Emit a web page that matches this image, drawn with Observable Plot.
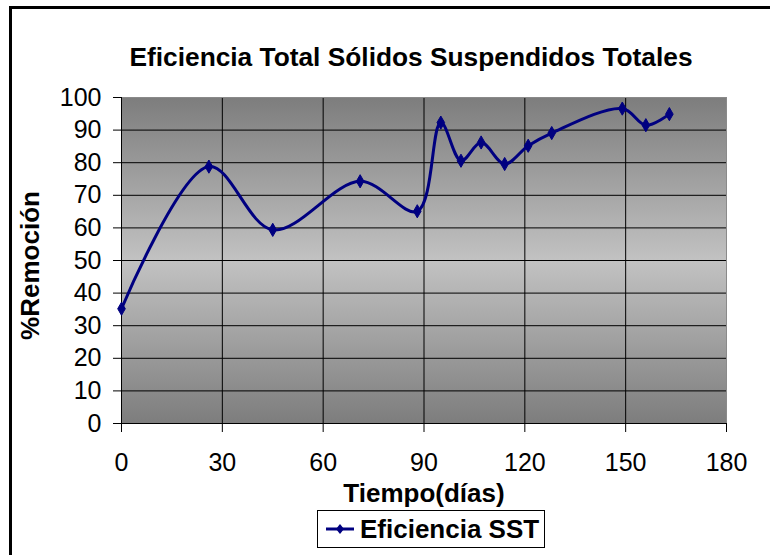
<!DOCTYPE html>
<html>
<head>
<meta charset="utf-8">
<script src="https://cdn.jsdelivr.net/npm/d3@7"></script>
<script src="https://cdn.jsdelivr.net/npm/@observablehq/plot@0.6"></script>
<style>
  html, body { margin: 0; padding: 0; background: #fff; }
  #wrap { position: relative; width: 770px; height: 555px; overflow: hidden; font-family: "Liberation Sans", Arial, sans-serif; }
  #border { position: absolute; left: 9px; top: 6px; width: 800px; height: 600px; border: 3px solid #000; }
  #title { position: absolute; left: 0; width: 822px; top: 42px; text-align: center; font-weight: bold; font-size: 26.3px; line-height: 30px; color: #000; }
  #chart { position: absolute; left: 0; top: 80px; }
  #legend { position: absolute; left: 317px; top: 510px; width: 226px; height: 36px; border: 1px solid #000; background: #fff; display: flex; align-items: center; font-weight: bold; font-size: 26px; color: #000; }
  #legend svg { margin-left: 8px; margin-right: 6px; }
</style>
</head>
<body>
<div id="wrap">
  <div id="border"></div>
  <div id="title">Eficiencia Total Sólidos Suspendidos Totales</div>
  <div id="chart"></div>
  <div id="legend"></div>
</div>
<script>
// Data
const days = [0, 26, 45, 71, 88, 95, 101, 107, 114, 121, 128, 149, 156, 163];
const removal = [35.2, 78.8, 59.4, 74.3, 65.1, 92.3, 80.6, 86.2, 79.6, 85.2, 89.1, 96.6, 91.5, 94.9];
const xTicks = [0, 30, 60, 90, 120, 150, 180];
const yTicks = [0, 10, 20, 30, 40, 50, 60, 70, 80, 90, 100];
const seriesName = "Eficiencia SST";
const xLabel = "Tiempo(días)";
const yLabel = "%Remoción";

const data = days.map((d, i) => ({day: d, value: removal[i]}));
const navy = "#000080";
const NS = "http://www.w3.org/2000/svg";

function gradientDefs() {
  const defs = document.createElementNS(NS, "defs");
  const lg = document.createElementNS(NS, "linearGradient");
  lg.setAttribute("id", "bg");
  lg.setAttribute("x1", "0"); lg.setAttribute("y1", "0");
  lg.setAttribute("x2", "0"); lg.setAttribute("y2", "1");
  [["0%", "#7d7d7d"], ["50%", "#c2c2c2"], ["100%", "#7d7d7d"]].forEach(([o, c]) => {
    const s = document.createElementNS(NS, "stop");
    s.setAttribute("offset", o);
    s.setAttribute("stop-color", c);
    lg.appendChild(s);
  });
  defs.appendChild(lg);
  return defs;
}

const chart = Plot.plot({
  width: 770,
  height: 430,
  marginTop: 17,
  marginBottom: 87,
  marginLeft: 121,
  marginRight: 44,
  style: {fontFamily: "Liberation Sans, Arial, sans-serif", fontSize: "25px", color: "#000", background: "transparent"},
  x: {domain: [0, 180], ticks: xTicks},
  y: {domain: [0, 100], ticks: yTicks},
  marks: [
    gradientDefs,
    Plot.frame({fill: "url(#bg)"}),
    Plot.gridY(yTicks, {stroke: "#000", strokeOpacity: 1, strokeWidth: 1}),
    Plot.gridX(xTicks, {stroke: "#000", strokeOpacity: 1, strokeWidth: 1}),
    Plot.frame({stroke: "#8a8a8a"}),
    Plot.ruleX([0], {stroke: "#000"}),
    Plot.ruleY([0], {stroke: "#000"}),
    Plot.axisY(yTicks, {tickSize: 8, tickPadding: 12, label: null, fontSize: 25}),
    Plot.axisX(xTicks, {tickSize: 9, tickPadding: 21, label: null, fontSize: 25}),
    Plot.line(data, {x: "day", y: "value", curve: "catmull-rom", stroke: navy, strokeWidth: 3}),
    Plot.dot(data, {x: "day", y: "value", symbol: "diamond", r: 4, fill: navy, stroke: navy, strokeWidth: 1}),
    Plot.text([xLabel], {frameAnchor: "bottom", lineAnchor: "middle", textAnchor: "middle", dy: 70, fontWeight: "bold", fontSize: 26, fill: "#000"}),
    Plot.text([yLabel], {frameAnchor: "left", lineAnchor: "middle", textAnchor: "middle", dx: -91, dy: 5, rotate: -90, fontWeight: "bold", fontSize: 26, fill: "#000"})
  ]
});
document.getElementById("chart").appendChild(chart);

// Legend
const leg = document.getElementById("legend");
const ls = document.createElementNS(NS, "svg");
ls.setAttribute("width", "28"); ls.setAttribute("height", "14");
const ln = document.createElementNS(NS, "line");
ln.setAttribute("x1", "0"); ln.setAttribute("x2", "28"); ln.setAttribute("y1", "7"); ln.setAttribute("y2", "7");
ln.setAttribute("stroke", navy); ln.setAttribute("stroke-width", "3");
const dm = document.createElementNS(NS, "path");
dm.setAttribute("d", "M14,2L18,7L14,12L10,7Z");
dm.setAttribute("fill", navy);
ls.appendChild(ln); ls.appendChild(dm);
leg.appendChild(ls);
const lt = document.createElement("span");
lt.textContent = seriesName;
leg.appendChild(lt);
</script>
</body>
</html>
